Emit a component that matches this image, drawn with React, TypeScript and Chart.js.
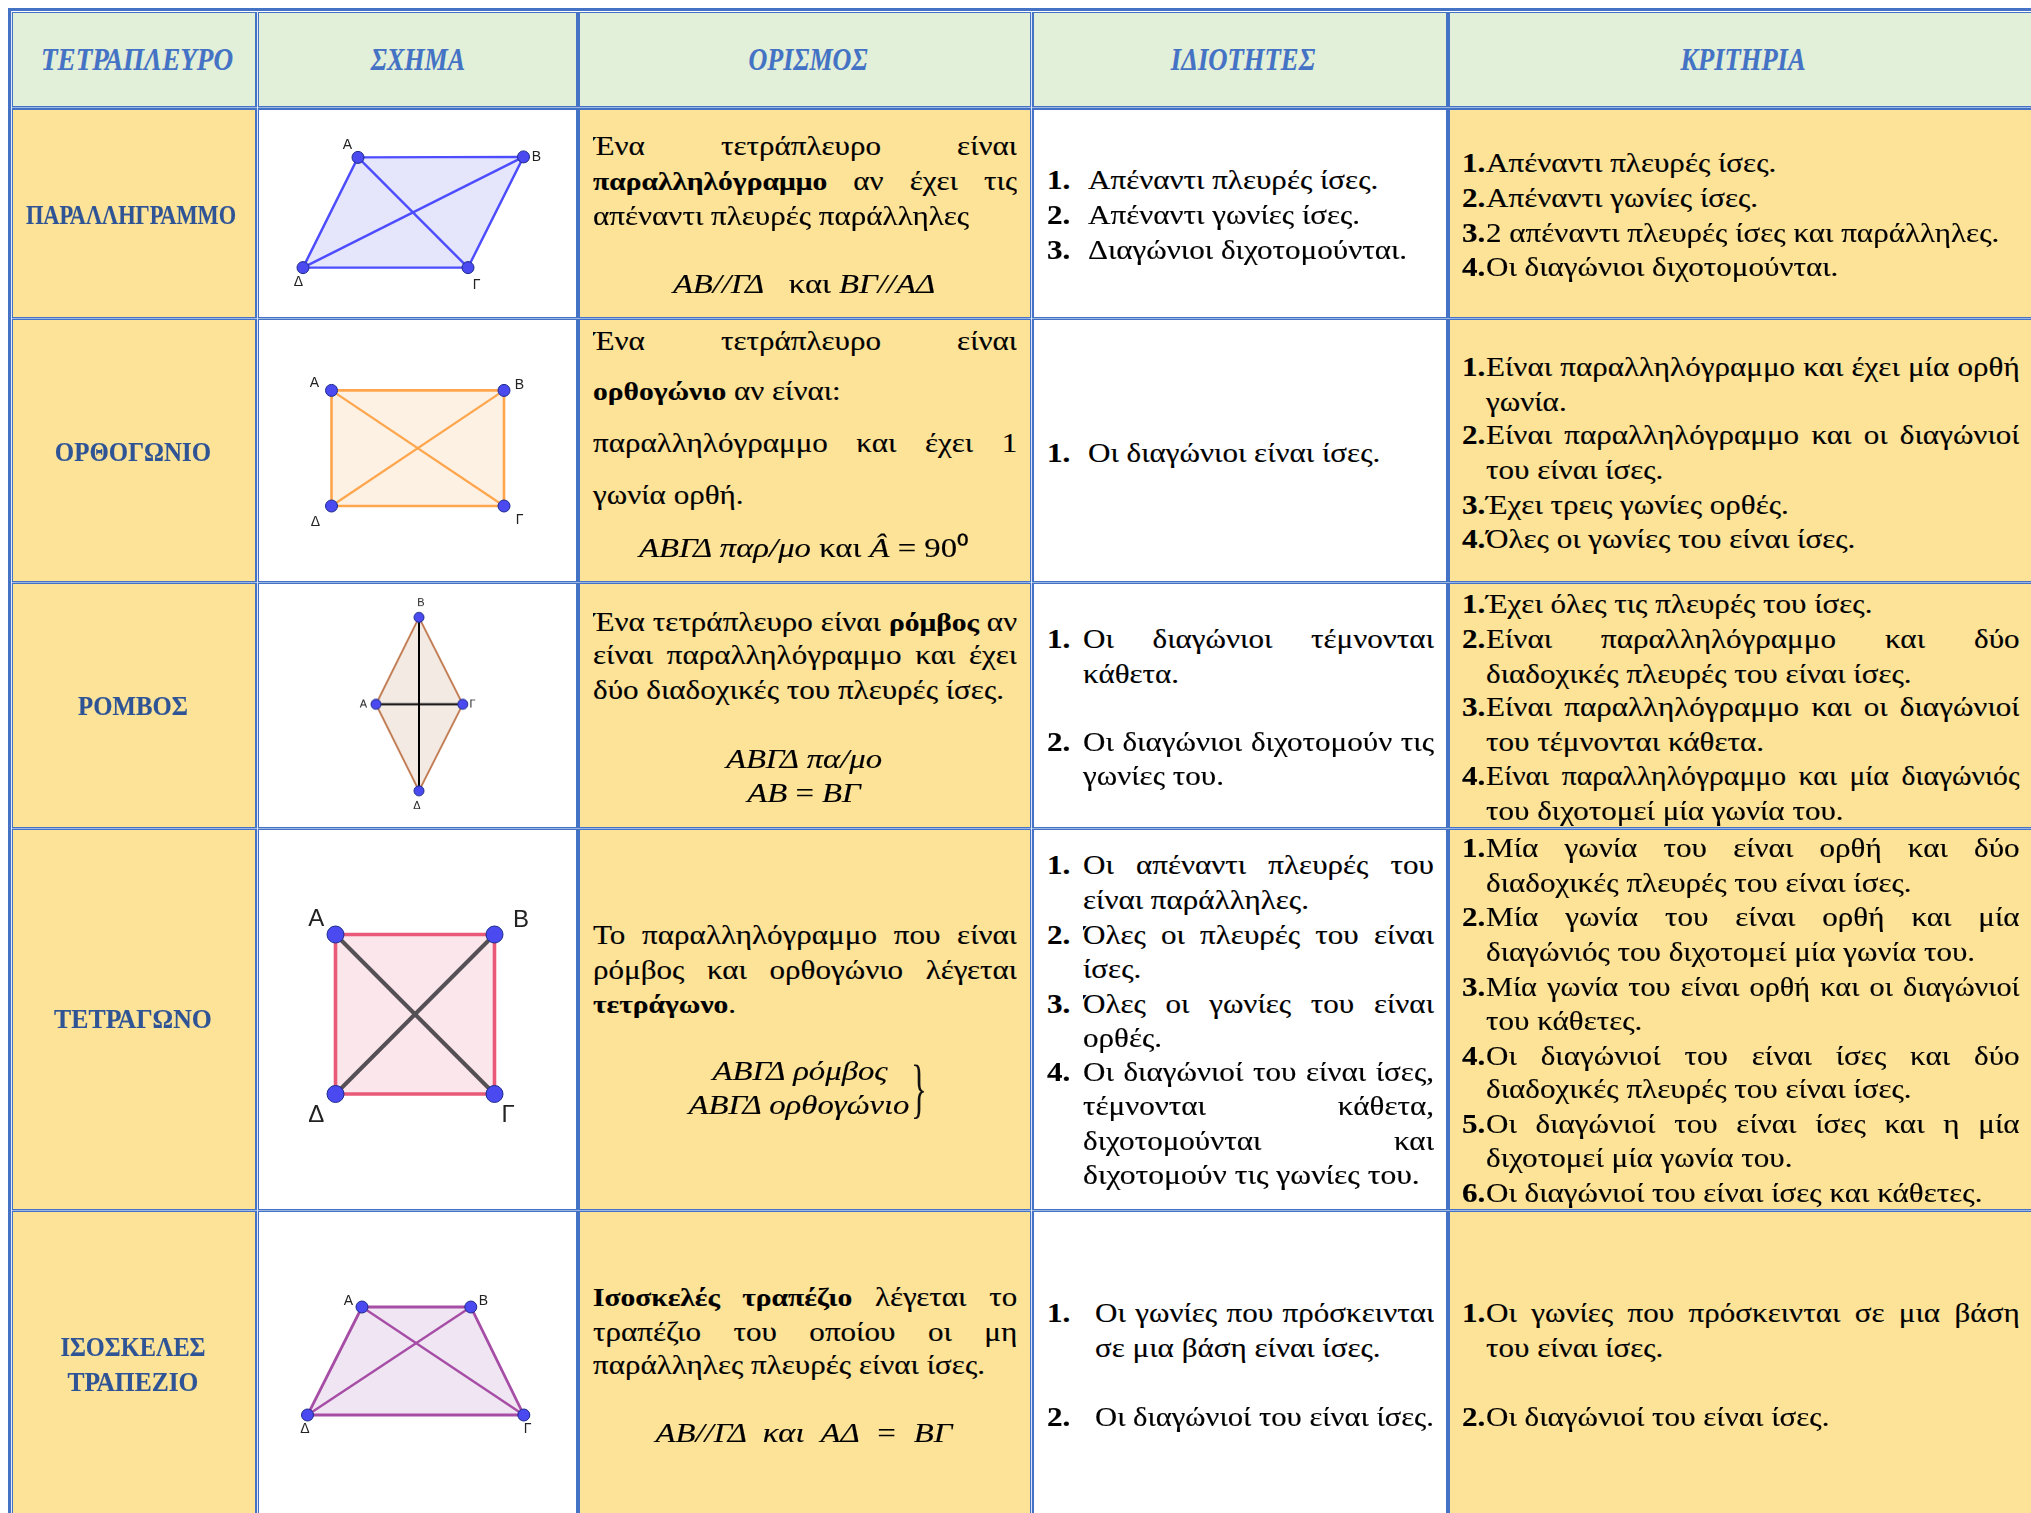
import React, { useEffect, useRef } from "react";
import { Chart, registerables } from "chart.js";

Chart.register(...registerables);

const S = 2031 / 1568;
const BLUE = "#4472c4";
const FONT = '"Liberation Serif", serif';

// ---- table grid (page pixels) ----
const vBars = [[8, 13], [255, 259], [576, 580], [1029.5, 1033.5], [1446, 1450], [2040, 2041]];
const hBars = [[8, 13], [106, 109.5], [317, 320], [581, 584], [826.5, 830], [1209, 1212], [1520, 1521]];
const headerFill = "#e2efd9";
const yellowFill = "#fde398";
const whiteCols = [1, 3];

// ---- header and row titles ----
const headers = ["ΤΕΤΡΑΠΛΕΥΡΟ", "ΣΧΗΜΑ", "ΟΡΙΣΜΟΣ", "ΙΔΙΟΤΗΤΕΣ", "ΚΡΙΤΗΡΙΑ"];
const headerX = [105.5, 323, 624, 959.5, 1345.5];
const headerStretch = [0.875, 0.84, 0.84, 0.86, 0.855];
const titles: [number, string, number][] = [
  [166, "ΠΑΡΑΛΛΗΓΡΑΜΜΟ", 0.8],
  [349, "ΟΡΘΟΓΩΝΙΟ", 0.89],
  [545, "ΡΟΜΒΟΣ", 0.885],
  [787, "ΤΕΤΡΑΓΩΝΟ", 0.92],
  [1040, "ΙΣΟΣΚΕΛΕΣ", 0.87],
  [1067, "ΤΡΑΠΕΖΙΟ", 0.91],
];

// ---- ΟΡΙΣΜΟΣ column: [y, text, justified] ----
type L = [number, string, boolean?];
const definitionLines: L[] = [
  [113, "Ένα τετράπλευρο είναι", true],
  [140, "**παραλληλόγραμμο** αν έχει τις", true],
  [167, "απέναντι πλευρές παράλληλες"],
  [263, "Ένα τετράπλευρο είναι", true],
  [302, "**ορθογώνιο** αν είναι:"],
  [342, "παραλληλόγραμμο και έχει 1", true],
  [382, "γωνία ορθή."],
  [480, "Ένα τετράπλευρο είναι **ρόμβος** αν", true],
  [506, "είναι παραλληλόγραμμο και έχει", true],
  [533, "δύο διαδοχικές του πλευρές ίσες."],
  [722, "Το παραλληλόγραμμο που είναι", true],
  [749, "ρόμβος και ορθογώνιο λέγεται", true],
  [775, "**τετράγωνο**."],
  [1001, "**Ισοσκελές τραπέζιο** λέγεται το", true],
  [1028, "τραπέζιο του οποίου οι μη", true],
  [1054, "παράλληλες πλευρές είναι ίσες."],
];
const formulas: [number, number, string][] = [
  [621, 219, "__ΑΒ//ΓΔ__   και __ΒΓ//ΑΔ__"],
  [621, 423, "__ΑΒΓΔ παρ/μο__ και __Â__ = 90⁰"],
  [621, 586, "__ΑΒΓΔ πα/μο__"],
  [620.5, 612, "__ΑΒ__ = __ΒΓ__"],
  [617.5, 827, "__ΑΒΓΔ ρόμβος__"],
  [617, 853, "__ΑΒΓΔ ορθογώνιο__"],
  [621, 1106, "__ΑΒ//ΓΔ  και  ΑΔ  =  ΒΓ__"],
];

// ---- ΙΔΙΟΤΗΤΕΣ column: [y, text, justified, number, textX, stretch] ----
type N = [number, string, boolean, string, number, number?];
const propertyLines: N[] = [
  [139, "Απέναντι πλευρές ίσες.", false, "1.", 840],
  [166, "Απέναντι γωνίες ίσες.", false, "2.", 840],
  [193, "Διαγώνιοι διχοτομούνται.", false, "3.", 840],
  [350, "Οι διαγώνιοι είναι ίσες.", false, "1.", 840],
  [493, "Οι διαγώνιοι τέμνονται", true, "1.", 836],
  [520, "κάθετα.", false, "", 836],
  [573, "Οι διαγώνιοι διχοτομούν τις", true, "2.", 836],
  [599, "γωνίες του.", false, "", 836],
  [668, "Οι απέναντι πλευρές του", true, "1.", 836],
  [695, "είναι παράλληλες.", false, "", 836],
  [722, "Όλες οι πλευρές του είναι", true, "2.", 836],
  [748, "ίσες.", false, "", 836],
  [775, "Όλες οι γωνίες του είναι", true, "3.", 836],
  [801, "ορθές.", false, "", 836],
  [828, "Οι διαγώνιοί του είναι ίσες,", true, "4.", 836],
  [854, "τέμνονται κάθετα,", true, "", 836],
  [881, "διχοτομούνται και", true, "", 836],
  [907, "διχοτομούν τις γωνίες του.", false, "", 836, 1.15],
  [1014, "Οι γωνίες που πρόσκεινται", true, "1.", 845],
  [1041, "σε μια βάση είναι ίσες.", false, "", 845],
  [1094, "Οι διαγώνιοί του είναι ίσες.", false, "2.", 845, 1.115],
];

// ---- ΚΡΙΤΗΡΙΑ column: [y, text, justified, number, stretch] ----
type C = [number, string, boolean, string, number?];
const criteriaLines: C[] = [
  [126, "Απέναντι πλευρές ίσες.", false, "1."],
  [153, "Απέναντι γωνίες ίσες.", false, "2."],
  [180, "2 απέναντι πλευρές ίσες και παράλληλες.", false, "3."],
  [206, "Οι διαγώνιοι διχοτομούνται.", false, "4."],
  [283, "Είναι παραλληλόγραμμο και έχει μία ορθή", true, "1."],
  [310, "γωνία.", false, ""],
  [336, "Είναι παραλληλόγραμμο και οι διαγώνιοί", true, "2."],
  [363, "του είναι ίσες.", false, ""],
  [390, "Έχει τρεις γωνίες ορθές.", false, "3."],
  [416, "Όλες οι γωνίες του είναι ίσες.", false, "4."],
  [466, "Έχει όλες τις πλευρές του ίσες.", false, "1."],
  [493, "Είναι παραλληλόγραμμο και δύο", true, "2."],
  [520, "διαδοχικές πλευρές του είναι ίσες.", false, ""],
  [546, "Είναι παραλληλόγραμμο και οι διαγώνιοί", true, "3."],
  [573, "του τέμνονται κάθετα.", false, ""],
  [599, "Είναι παραλληλόγραμμο και μία διαγώνιός", true, "4.", 1.08],
  [626, "του διχοτομεί μία γωνία του.", false, ""],
  [655, "Μία γωνία του είναι ορθή και δύο", true, "1."],
  [682, "διαδοχικές πλευρές του είναι ίσες.", false, ""],
  [708, "Μία γωνία του είναι ορθή και μία", true, "2."],
  [735, "διαγώνιός του διχοτομεί μία γωνία του.", false, ""],
  [762, "Μία γωνία του είναι ορθή και οι διαγώνιοί", true, "3.", 1.1],
  [788, "του κάθετες.", false, ""],
  [815, "Οι διαγώνιοί του είναι ίσες και δύο", true, "4."],
  [841, "διαδοχικές πλευρές του είναι ίσες.", false, ""],
  [868, "Οι διαγώνιοί του είναι ίσες και η μία", true, "5."],
  [894, "διχοτομεί μία γωνία του.", false, ""],
  [921, "Οι διαγώνιοί του είναι ίσες και κάθετες.", false, "6."],
  [1014, "Οι γωνίες που πρόσκεινται σε μια βάση", true, "1."],
  [1041, "του είναι ίσες.", false, ""],
  [1094, "Οι διαγώνιοί του είναι ίσες.", false, "2."],
];

// ---- figures: vertices A, Β, Γ, Δ in each cell's own units ----
const vertexNames = ["Α", "Β", "Γ", "Δ"];
const parallelogramVertices = [[99, 47.5], [264.5, 47], [209, 158], [44, 158]];
const parallelogramLabels = [[88.5, 35.5], [277.5, 47], [217.5, 175.5], [39.5, 172.5]];
const rectangleVertices = [[72.5, 70.4], [245, 70.4], [245, 186], [72.5, 186]];
const rectangleLabels = [[55.5, 63], [260.5, 65], [260.5, 200.5], [56.5, 202]];
const rhombusVertices = [[117, 120], [160, 33.3], [203.8, 120], [160, 206.4]];
const rhombusLabels = [[104.5, 120], [162, 19.5], [213.5, 120.7], [158, 221]];
const squareVertices = [[76.5, 104.5], [235.5, 104.5], [235.5, 264], [76.5, 264]];
const squareLabels = [[57.2, 89], [262, 90], [249, 285], [57.2, 285]];
const trapezoidVertices = [[103, 95], [211.8, 95], [264.8, 203], [48.5, 203]];
const trapezoidLabels = [[89.5, 89], [224.5, 88.7], [268.5, 217], [46, 217]];

const figures = [
  { row: 1, v: parallelogramVertices, l: parallelogramLabels, edge: "#4d4dff", fill: "#e5e6fb", diag: "#4d4dff", diagW: 2.4, edgeW: 2.4, r: 6, font: 14 },
  { row: 2, v: rectangleVertices, l: rectangleLabels, edge: "#ffa64d", fill: "#fdf1e4", diag: "#ffa64d", diagW: 2.2, edgeW: 2.6, r: 6, font: 14 },
  { row: 3, v: rhombusVertices, l: rhombusLabels, edge: "#c0794f", fill: "#f3eae3", diag: "#000000", diagW: 2, edgeW: 1.8, r: 5, font: 11 },
  { row: 4, v: squareVertices, l: squareLabels, edge: "#e85a78", fill: "#fbe6eb", diag: "#555055", diagW: 4, edgeW: 3.6, r: 8.5, font: 24 },
  { row: 5, v: trapezoidVertices, l: trapezoidLabels, edge: "#a64da6", fill: "#f0e5f2", diag: "#a64da6", diagW: 2.4, edgeW: 2.8, r: 6, font: 14 },
];

function rich(t: string) {
  return t.split(/(\*\*.+?\*\*|__.+?__)/).filter(Boolean).map((p, i) => {
    if (p.startsWith("**")) return <b key={i} style={{ fontSize: "0.95em" }}>{p.slice(2, -2)}</b>;
    if (p.startsWith("__")) return <i key={i}>{p.slice(2, -2)}</i>;
    return <span key={i}>{p}</span>;
  });
}

const BODY = 27.5;
const BODY_K = 1.13;
const FORMULA_K = 1.19;

function Line(props: { x: number; right?: number; y: number; text: string; just?: boolean; center?: boolean; size?: number; k?: number; style?: React.CSSProperties }) {
  const { x, right, y, text, just, center, size = BODY, k = BODY_K, style } = props;
  const h = 44;
  const base: React.CSSProperties = {
    position: "absolute",
    top: y - h / 2,
    height: h,
    lineHeight: h + "px",
    fontFamily: FONT,
    fontSize: size,
    color: "#000",
    whiteSpace: "pre",
    transform: `scaleX(${k})`,
    transformOrigin: center ? "center" : "left center",
    WebkitTextStroke: "0.15px currentColor",
    ...style,
  };
  if (center) {
    return <div style={{ ...base, left: x - 400, width: 800, textAlign: "center" }}>{rich(text)}</div>;
  }
  if (just && right) {
    return <div style={{ ...base, left: x, width: (right - x) / k, whiteSpace: "normal", textAlign: "justify", textAlignLast: "justify", overflow: "hidden" }}>{rich(text)}</div>;
  }
  return <div style={{ ...base, left: x }}>{rich(text)}</div>;
}

function Figure({ fig, left, top, width, height }: { fig: (typeof figures)[number]; left: number; top: number; width: number; height: number }) {
  const ref = useRef<HTMLCanvasElement>(null);
  useEffect(() => {
    const [a, b, c, d] = fig.v.map(([x, y]) => ({ x, y }));
    const labelPlugin = {
      id: "vertexLabels",
      afterDatasetsDraw(chart: any) {
        const ctx = chart.ctx;
        ctx.save();
        ctx.font = `${fig.font}px "Liberation Sans", sans-serif`;
        ctx.fillStyle = "#222";
        ctx.textAlign = "center";
        ctx.textBaseline = "middle";
        fig.l.forEach(([x, y], i) => {
          ctx.fillText(vertexNames[i], chart.scales.x.getPixelForValue(x), chart.scales.y.getPixelForValue(y));
        });
        ctx.restore();
      },
    };
    const chart = new Chart(ref.current!, {
      type: "scatter",
      data: {
        datasets: [
          { label: "vertices", data: [a, b, c, d], showLine: false, pointRadius: fig.r, pointBackgroundColor: "#4a4af0", pointBorderColor: "#1c2a8c", pointBorderWidth: 1 },
          { label: "d1", data: [a, c], showLine: true, pointRadius: 0, borderColor: fig.diag, borderWidth: fig.diagW },
          { label: "d2", data: [b, d], showLine: true, pointRadius: 0, borderColor: fig.diag, borderWidth: fig.diagW },
          { label: "shape", data: [a, b, c, d, a], showLine: true, pointRadius: 0, borderColor: fig.edge, borderWidth: fig.edgeW, backgroundColor: fig.fill, fill: "shape" },
        ],
      } as any,
      options: {
        responsive: false,
        animation: false,
        devicePixelRatio: 1,
        layout: { padding: 0, autoPadding: false },
        plugins: { legend: { display: false }, tooltip: { enabled: false } },
        scales: {
          x: { type: "linear", display: false, min: 0, max: width },
          y: { type: "linear", display: false, min: 0, max: height, reverse: true },
        },
      } as any,
      plugins: [labelPlugin],
    });
    return () => chart.destroy();
  }, [fig, width, height]);
  return <canvas ref={ref} width={width} height={height} style={{ position: "absolute", left, top, width, height }} />;
}

export default function App() {
  useEffect(() => {
    document.body.style.margin = "0";
    document.documentElement.style.overflow = "hidden";
    document.body.style.background = "#fff";
  }, []);

  const cells: React.ReactNode[] = [];
  for (let r = 0; r < hBars.length - 1; r++) {
    for (let c = 0; c < vBars.length - 1; c++) {
      const fill = r === 0 ? headerFill : whiteCols.includes(c) ? "#fff" : yellowFill;
      cells.push(
        <div key={r + "-" + c} style={{ position: "absolute", left: vBars[c][1], top: hBars[r][1], width: vBars[c + 1][0] - vBars[c][1], height: hBars[r + 1][0] - hBars[r][1], background: fill }} />
      );
    }
  }
  const hair: React.ReactNode[] = [];
  hBars.slice(0, 6).forEach(([s, e], i) => {
    const y = i === 0 ? 11 : (s + e) / 2 - 0.5;
    hair.push(<div key={"h" + i} style={{ position: "absolute", left: 11, width: 2031, top: y, height: 1, background: i === 0 ? "#fff" : "#9db5e3" }} />);
  });
  vBars.slice(0, 5).forEach(([s, e], i) => {
    if (i === 2 || i === 4) return;
    const x = i === 0 ? 11 : (s + e) / 2 - 0.5;
    hair.push(<div key={"v" + i} style={{ position: "absolute", top: 11, height: 1513, left: x, width: 1, background: "#dfe7f7" }} />);
  });

  return (
    <div style={{ position: "relative", width: 2031, height: 1513, overflow: "hidden", background: "#fff" }}>
      <div style={{ position: "absolute", left: 8, top: 8, width: 2040, height: 1520, background: BLUE }} />
      {hair}
      {cells}
      {figures.map((f) => {
        const top = hBars[f.row][1];
        const bottom = hBars[f.row + 1][0];
        return <Figure key={f.row} fig={f} left={vBars[1][1]} top={top} width={vBars[2][0] - vBars[1][1]} height={Math.min(bottom, 1513) - top} />;
      })}
      {headers.map((h, i) => (
        <Line key={h} x={headerX[i] * S} y={46 * S} text={h} center size={31} k={headerStretch[i]} style={{ color: BLUE, fontStyle: "italic", fontWeight: 700 }} />
      ))}
      {titles.map(([y, t, k]) => (
        <Line key={t} x={(t === "ΠΑΡΑΛΛΗΓΡΑΜΜΟ" ? 101 : 103) * S} y={y * S} text={t} center size={28} k={k} style={{ color: "#2f5496", fontWeight: 700 }} />
      ))}
      {definitionLines.map(([y, t, j], i) => (
        <Line key={"d" + i} x={458 * S} right={785.5 * S} y={y * S} text={t} just={j} />
      ))}
      {formulas.map(([x, y, t], i) => (
        <Line key={"f" + i} x={x * S} y={y * S} text={t} center k={FORMULA_K} />
      ))}
      <div style={{ position: "absolute", left: 703 * S, top: 817 * S, fontFamily: FONT, fontSize: 66, lineHeight: "60px", transform: "scaleX(0.5)", transformOrigin: "left top", color: "#111" }}>{"}"}</div>
      {propertyLines.map(([y, t, j, n, tx, k], i) => (
        <React.Fragment key={"p" + i}>
          {n && <Line x={808 * S} y={y * S} text={n} style={{ fontWeight: 700 }} />}
          <Line x={tx * S} right={1107 * S} y={y * S} text={t} just={j} k={k} />
        </React.Fragment>
      ))}
      {criteriaLines.map(([y, t, j, n, k], i) => (
        <React.Fragment key={"c" + i}>
          {n && <Line x={1129 * S} y={y * S} text={n} style={{ fontWeight: 700 }} />}
          <Line x={1147 * S} right={1559 * S} y={y * S} text={t} just={j} k={k} />
        </React.Fragment>
      ))}
    </div>
  );
}
